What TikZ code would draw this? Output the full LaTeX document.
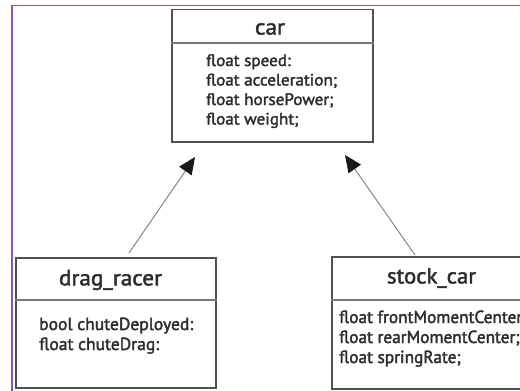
\documentclass[tikz,border=0pt]{standalone}
\usepackage{fontspec}
\usepackage{graphicx}
\setmainfont{PT Sans}
\newfontfamily\umlfont[FakeBold=2]{PT Sans}
\usetikzlibrary{arrows.meta}
\definecolor{framecol}{RGB}{140,82,190}
\definecolor{boxcol}{RGB}{80,80,80}
\definecolor{divcol}{RGB}{120,120,120}
\definecolor{txtcol}{RGB}{45,45,45}
\definecolor{linkcol}{RGB}{135,135,135}
\newcommand{\fitline}[2]{\resizebox{#1}{\height}{#2}}
\newcommand{\attrblock}[4]{\resizebox{#1}{\height}{\fontsize{#2}{#3}\selectfont\begin{tabular}[t]{@{}l@{}}#4\end{tabular}}}
\tikzset{
  classbox/.style={draw=boxcol, line width=1.6pt, fill=none, inner sep=0pt},
  divider/.style={draw=divcol, line width=1.2pt},
  classtitle/.style={font=\umlfont\fontsize{22}{24}\selectfont, text=txtcol, inner sep=0pt},
  attrs/.style={font=\umlfont, text=txtcol, inner sep=0pt, anchor=base west},
  inherit/.style={draw=linkcol, line width=1pt, -{Triangle[length=17pt,width=15pt,color=black!90]}}
}
\begin{document}
\begin{tikzpicture}[x=1pt,y=-1pt]
\useasboundingbox (0,0) rectangle (520,391);
\fill[white] (0,0) rectangle (520,391);
\draw[framecol, line width=1.5pt] (12,391) -- (12,5.7) -- (521,5.7);

% car
\node[classbox, minimum width=201pt, minimum height=132.5pt] (car) at (272.5,75.75) {};
\draw[divider] (car.west |- 0,43) -- (car.east |- 0,43);
\node[classtitle] (carname) at (270,29) {\fitline{30pt}{car}};
\node[attrs] (carattrs) at (206,66) {\attrblock{131pt}{16.5}{19.5}{float speed:\\float acceleration;\\float horsePower;\\float weight;}};

% drag_racer
\node[classbox, minimum width=200pt, minimum height=130pt] (dr) at (116,323) {};
\draw[divider] (dr.west |- 0,300) -- (dr.east |- 0,300);
\node[classtitle] (drname) at (110.5,280) {\fitline{103pt}{drag\_racer}};
\node[attrs] (drattrs) at (39,330) {\attrblock{154pt}{17.5}{20}{bool chuteDeployed:\\float chuteDrag:}};

% stock_car
\node[classbox, minimum width=198pt, minimum height=132pt] (sc) at (431,323) {};
\draw[divider] (sc.west |- 0,300) -- (sc.east |- 0,300);
\node[classtitle] (scname) at (431.5,278) {\fitline{89pt}{stock\_car}};
\node[attrs] (scattrs) at (339,323) {\attrblock{183pt}{17.5}{20}{float frontMomentCenter\\float rearMomentCenter;\\float springRate;}};

% inheritance arrows
\coordinate (drtop) at (129,253);
\coordinate (cartipL) at (195,157);
\coordinate (sctop) at (415,255);
\coordinate (cartipR) at (345,155);
\draw[inherit] (drtop) -- (cartipL);
\draw[inherit] (sctop) -- (cartipR);
\end{tikzpicture}
\end{document}
